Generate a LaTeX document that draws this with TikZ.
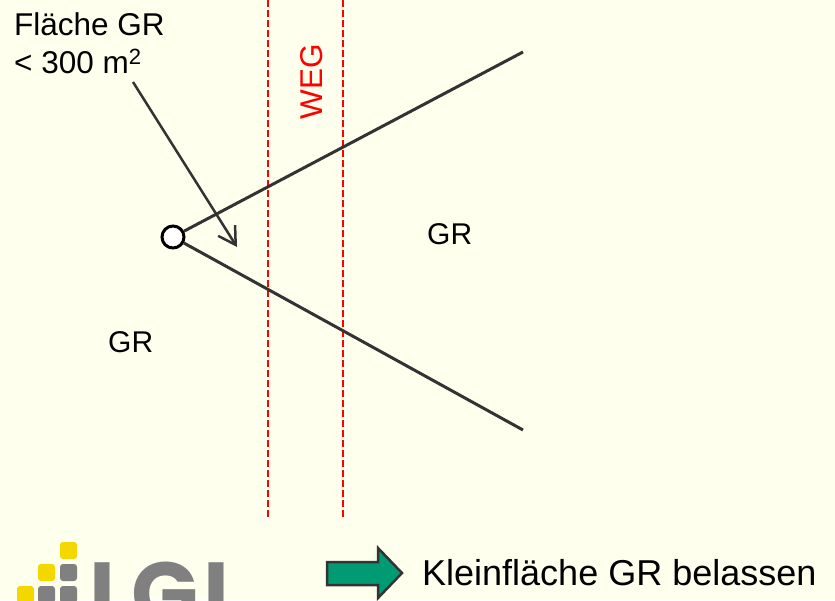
\documentclass[tikz,border=0pt]{standalone}
\usepackage{fontspec}
\setmainfont{Liberation Sans}
\newfontfamily\logofont{Poppins}
\usetikzlibrary{arrows.meta}
\definecolor{bgcol}{HTML}{FFFFEE}
\definecolor{linegray}{HTML}{333333}
\definecolor{weggreen}{HTML}{009B72}
\definecolor{logoyellow}{HTML}{F5D700}
\definecolor{logogray}{HTML}{808080}
\tikzset{
  lbl/.style={inner sep=0pt, font=\fontsize{30}{37.7}\selectfont, text=black},
  bigl/.style={inner sep=0pt, font=\fontsize{31.5}{37.7}\selectfont, text=black},
  border/.style={linegray, line width=3pt},
  weg/.style={red, line width=2pt, dash pattern=on 7pt off 3pt},
  sq/.style={rounded corners=3pt},
}
\begin{document}
\begin{tikzpicture}[x=1pt,y=-1pt]
\fill[bgcol] (0,0) rectangle (835,600);
\clip (0,0) rectangle (835,600);
\useasboundingbox (0,0) rectangle (835,600);
% WEG
\draw[weg] (268,0) -- (268,520);
\draw[weg] (343,0) -- (343,520);
\node[bigl, text=red, rotate=90] (weg) at (312,82) {WEG};
% boundaries
\coordinate (e1) at (523,52);
\coordinate (e2) at (523,430);
\node[circle, draw=black, line width=3pt, fill=white, minimum size=22pt, inner sep=0pt] (c) at (173,237) {};
\draw[border] (c) -- (e1);
\draw[border] (c) -- (e2);
% labels
\node[bigl, anchor=north west, align=left] (fl) at (14,12.5) {Fläche GR\\< 300 m\textsuperscript{2}};
\coordinate (a1) at (133,82);
\coordinate (a2) at (237,247);
\draw[linegray, line width=2.5pt, -{Straight Barb[length=17pt,width=20pt]}] (a1) -- (a2);
\node[lbl, anchor=base west] (gr1) at (427,244) {GR};
\node[lbl, anchor=base west] (gr2) at (108,352) {GR};
% result arrow
\draw[linegray, line width=2.5pt, fill=weggreen, line join=miter]
  (327,562) -- (378,562) -- (378,548) -- (402,573) -- (378,598) -- (378,585) -- (327,585) -- cycle;
\node[lbl, anchor=base west, font=\fontsize{36}{43}\selectfont] (res) at (422,585) {Kleinfläche GR belassen};
% logo
\fill[sq, logoyellow] (60,542) rectangle (77,559);
\fill[sq, logoyellow] (38,564) rectangle (55,581);
\fill[sq, logogray] (60,564) rectangle (77,581);
\fill[sq, logoyellow] (17,586) rectangle (34,603);
\fill[sq, logogray] (38,586) rectangle (55,603);
\fill[sq, logogray] (60,586) rectangle (77,603);
\node[inner sep=0pt, anchor=base west, text=logogray, font=\logofont\bfseries\fontsize{88}{88}\selectfont] (logo) at (89,624) {LG\kern5ptL};
\end{tikzpicture}
\end{document}
